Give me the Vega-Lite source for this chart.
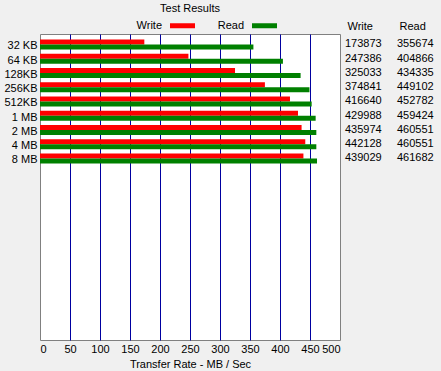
{
  "$schema": "https://vega.github.io/schema/vega-lite/v6.json",
  "background": "#f0f0f0",
  "autosize": {"type": "none"},
  "padding": {"left": 40, "top": 34, "right": 101, "bottom": 31},
  "width": 300,
  "height": 306,
  "title": {"text": "Test Results", "fontSize": 11, "fontWeight": "normal", "font": "Liberation Sans", "color": "black", "anchor": "middle", "offset": -1},
  "view": {"stroke": "#808080", "fill": "white"},
  "data": {"values": [
    {"size": "32 KB", "type": "Write", "kb": 173873},
    {"size": "32 KB", "type": "Read", "kb": 355674},
    {"size": "64 KB", "type": "Write", "kb": 247386},
    {"size": "64 KB", "type": "Read", "kb": 404866},
    {"size": "128KB", "type": "Write", "kb": 325033},
    {"size": "128KB", "type": "Read", "kb": 434335},
    {"size": "256KB", "type": "Write", "kb": 374841},
    {"size": "256KB", "type": "Read", "kb": 449102},
    {"size": "512KB", "type": "Write", "kb": 416640},
    {"size": "512KB", "type": "Read", "kb": 452782},
    {"size": "1 MB", "type": "Write", "kb": 429988},
    {"size": "1 MB", "type": "Read", "kb": 459424},
    {"size": "2 MB", "type": "Write", "kb": 435974},
    {"size": "2 MB", "type": "Read", "kb": 460551},
    {"size": "4 MB", "type": "Write", "kb": 442128},
    {"size": "4 MB", "type": "Read", "kb": 460551},
    {"size": "8 MB", "type": "Write", "kb": 439029},
    {"size": "8 MB", "type": "Read", "kb": 461682}
  ]},
  "encoding": {
    "y": {
      "field": "size", "type": "nominal",
      "scale": {
        "domain": ["32 KB", "64 KB", "128KB", "256KB", "512KB", "1 MB", "2 MB", "4 MB", "8 MB", "_1", "_2", "_3", "_4", "_5", "_6", "_7", "_8", "_9", "_10", "_11", "_12"],
        "paddingInner": 0.3, "paddingOuter": 0.386
      },
      "axis": {"title": null, "ticks": false, "domain": false, "grid": false, "labelPadding": 3, "labelOffset": 2, "labelExpr": "indexof(datum.label, '_') == 0 ? '' : datum.label"}
    }
  },
  "layer": [
    {
      "mark": {"type": "bar"},
      "encoding": {
        "yOffset": {"field": "type", "type": "nominal", "sort": ["Write", "Read"]},
        "x": {
          "field": "kb", "type": "quantitative",
          "scale": {"domain": [0, 500000], "nice": false},
          "axis": {
            "values": [0, 50000, 100000, 150000, 200000, 250000, 300000, 350000, 400000, 450000, 500000],
            "labelExpr": "datum.value / 1000",
            "title": "Transfer Rate - MB / Sec",
            "grid": true,
            "gridColor": "#0000a0",
            "gridOpacity": {"condition": {"test": "datum.value == 0 || datum.value == 500000", "value": 0}, "value": 1},
            "ticks": false, "domain": false,
            "labelPadding": 3, "titlePadding": 4
          }
        },
        "color": {
          "field": "type", "type": "nominal",
          "scale": {"domain": ["Write", "Read"], "range": ["#ff0000", "#008000"]},
          "legend": {
            "orient": "none", "legendX": 130, "legendY": -21,
            "direction": "horizontal", "title": null,
            "symbolType": "M-1,-0.2H1V0.2H-1Z", "symbolSize": 625, "symbolStrokeWidth": 0,
            "labelAlign": "right", "labelOffset": -33, "columnPadding": 22
          }
        }
      }
    },
    {
      "mark": {"type": "text", "align": "left", "baseline": "middle"},
      "encoding": {
        "x": {
          "field": "type", "type": "nominal", "sort": ["Write", "Read"],
          "scale": {"type": "point", "range": [305, 357], "padding": 0},
          "axis": {"orient": "top", "title": null, "ticks": false, "domain": false, "grid": false, "labelAngle": 0, "labelAlign": "left", "labelOffset": 2, "labelPadding": 3}
        },
        "text": {"field": "kb", "type": "quantitative", "format": "d"}
      }
    }
  ],
  "resolve": {"scale": {"x": "independent"}, "axis": {"x": "independent"}},
  "config": {
    "font": "Liberation Sans",
    "axis": {"labelFont": "Liberation Sans", "labelFontSize": 11, "labelColor": "black", "titleFont": "Liberation Sans", "titleFontSize": 11, "titleFontWeight": "normal", "titleColor": "black"},
    "legend": {"labelFont": "Liberation Sans", "labelFontSize": 11, "labelColor": "black"},
    "text": {"font": "Liberation Sans", "fontSize": 11, "color": "black"}
  }
}
